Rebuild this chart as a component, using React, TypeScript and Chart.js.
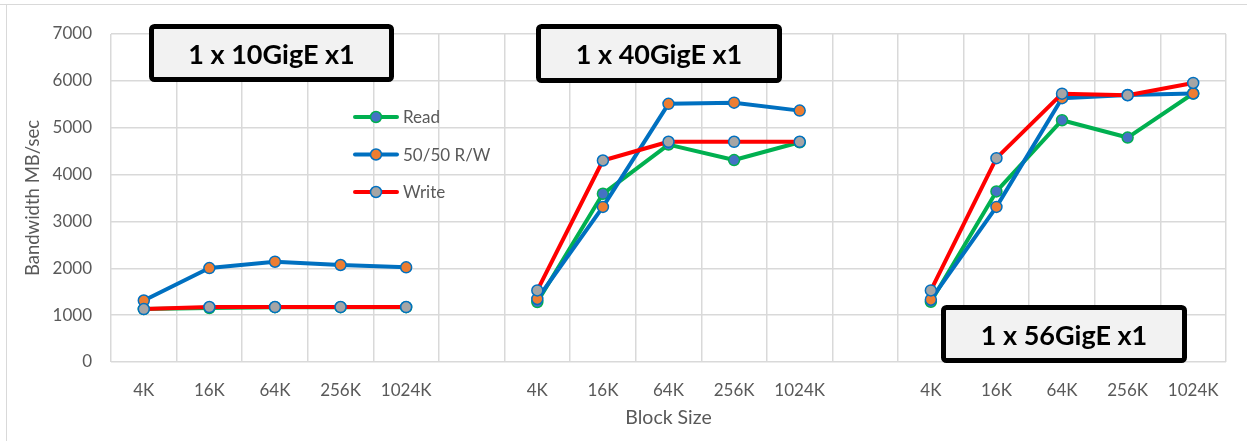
import React, { useEffect, useRef } from "react";
import { Chart, registerables } from "chart.js";

Chart.register(...registerables);

const categories = ["4K", "16K", "64K", "256K", "1024K", "", "4K", "16K", "64K", "256K", "1024K", "", "4K", "16K", "64K", "256K", "1024K"];
const readValues = [1130, 1150, 1170, 1170, 1170, null, 1280, 3590, 4640, 4310, 4690, null, 1285, 3640, 5160, 4790, 5730];
const rwValues = [1312, 2005, 2140, 2070, 2020, null, 1345, 3310, 5510, 5535, 5365, null, 1330, 3310, 5630, 5700, 5730];
const writeValues = [1130, 1173, 1173, 1173, 1173, null, 1527, 4300, 4700, 4700, 4700, null, 1527, 4350, 5727, 5693, 5955];
const seriesNames = ["Read", "50/50 R/W", "Write"];
const panelTitles = ["1 x 10GigE x1", "1 x 40GigE x1", "1 x 56GigE x1"];
const yMin = 0;
const yMax = 7000;
const yStep = 1000;

const FONT = "Lato, 'Open Sans', sans-serif";
const GREY_TEXT = "#595959";

const overlayPlugin = {
  id: "overlay",
  afterDraw(chart: any) {
    const ctx = chart.ctx as CanvasRenderingContext2D;
    ctx.save();
    // legend
    chart.data.datasets.forEach((ds: any, i: number) => {
      const y = 117 + i * 37.5;
      ctx.strokeStyle = ds.borderColor;
      ctx.lineWidth = 4;
      ctx.lineCap = "round";
      ctx.beginPath();
      ctx.moveTo(355, y);
      ctx.lineTo(397, y);
      ctx.stroke();
      ctx.beginPath();
      ctx.arc(376, y, 5.5, 0, Math.PI * 2);
      ctx.fillStyle = ds.pointBackgroundColor;
      ctx.fill();
      ctx.lineWidth = 1.5;
      ctx.strokeStyle = ds.pointBorderColor;
      ctx.stroke();
      ctx.fillStyle = GREY_TEXT;
      ctx.font = `17px ${FONT}`;
      ctx.textAlign = "left";
      ctx.textBaseline = "middle";
      ctx.fillText(ds.label, 403, y + 1);
    });
    // panel title boxes
    const boxes = [
      { x: 149, y: 24, w: 245, h: 58 },
      { x: 536, y: 24, w: 246, h: 59 },
      { x: 941, y: 305, w: 246, h: 58 },
    ];
    boxes.forEach((b, i) => {
      const lw = 5;
      const x = b.x + lw / 2;
      const y = b.y + lw / 2;
      const w = b.w - lw;
      const h = b.h - lw;
      ctx.beginPath();
      if ((ctx as any).roundRect) (ctx as any).roundRect(x, y, w, h, 3);
      else ctx.rect(x, y, w, h);
      ctx.fillStyle = "#f2f2f2";
      ctx.fill();
      ctx.lineWidth = lw;
      ctx.strokeStyle = "#000000";
      ctx.stroke();
      ctx.fillStyle = "#000000";
      ctx.font = `bold 27px ${FONT}`;
      ctx.textAlign = "center";
      ctx.textBaseline = "alphabetic";
      ctx.fillText(panelTitles[i], b.x + b.w / 2, b.y + 39.5);
    });
    ctx.restore();
  },
};

export default function App() {
  const canvasRef = useRef<HTMLCanvasElement | null>(null);

  useEffect(() => {
    if (!canvasRef.current) return;
    const chart = new Chart(canvasRef.current, {
      type: "line",
      data: {
        labels: categories,
        datasets: [
          {
            label: seriesNames[0],
            data: readValues,
            borderColor: "#00B050",
            backgroundColor: "#00B050",
            pointBackgroundColor: "#4472C4",
            pointBorderColor: "#00B050",
            order: 3,
          },
          {
            label: seriesNames[1],
            data: rwValues,
            borderColor: "#0070C0",
            backgroundColor: "#0070C0",
            pointBackgroundColor: "#ED7D31",
            pointBorderColor: "#0070C0",
            order: 2,
          },
          {
            label: seriesNames[2],
            data: writeValues,
            borderColor: "#FF0000",
            backgroundColor: "#FF0000",
            pointBackgroundColor: "#A5A5A5",
            pointBorderColor: "#0070C0",
            order: 1,
          },
        ],
      },
      options: {
        animation: false,
        responsive: false,
        maintainAspectRatio: false,
        devicePixelRatio: 1,
        layout: { padding: { left: 0, right: 21, top: 34, bottom: 0 } },
        elements: {
          line: { borderWidth: 4, tension: 0, borderCapStyle: "round", borderJoinStyle: "round" },
          point: { radius: 5.5, borderWidth: 1.5, hoverRadius: 5.5 },
        },
        spanGaps: false,
        plugins: {
          legend: { display: false },
          tooltip: { enabled: false },
        },
        scales: {
          x: {
            type: "category",
            offset: true,
            grid: { offset: true, color: "#d9d9d9", lineWidth: 1.5, drawTicks: false },
            border: { display: false },
            ticks: { color: GREY_TEXT, font: { family: FONT, size: 17 }, padding: 18, maxRotation: 0, autoSkip: false },
            title: { display: true, text: "Block Size", color: GREY_TEXT, font: { family: FONT, size: 19.5 }, padding: { top: 0, bottom: 12 } },
            afterFit: (scale: any) => {
              scale.height = 79;
            },
          },
          y: {
            min: yMin,
            max: yMax,
            grid: { color: "#d9d9d9", lineWidth: 1.5, drawTicks: false },
            border: { display: false },
            ticks: {
              stepSize: yStep,
              color: GREY_TEXT,
              font: { family: FONT, size: 17 },
              padding: 19,
              callback: (v: any) => String(v),
            },
            title: { display: true, text: "Bandwidth MB/sec", color: GREY_TEXT, font: { family: FONT, size: 18.5 }, padding: { top: 22, bottom: 0 } },
            afterFit: (scale: any) => {
              scale.width = 111;
            },
          },
        },
      },
      plugins: [overlayPlugin],
    } as any);
    return () => chart.destroy();
  }, []);

  return (
    <div style={{ position: "absolute", left: 0, top: 0, width: 1247, height: 441, background: "#ffffff", overflow: "hidden" }}>
      <div style={{ position: "absolute", left: 0, top: 4, width: 1247, height: 0, borderTop: "1px solid #d9d9d9" }} />
      <div style={{ position: "absolute", left: 6, top: 5, width: 0, height: 436, borderLeft: "1px solid #d9d9d9" }} />
      <canvas ref={canvasRef} width={1247} height={441} style={{ position: "absolute", left: 0, top: 0, width: 1247, height: 441 }} />
    </div>
  );
}
